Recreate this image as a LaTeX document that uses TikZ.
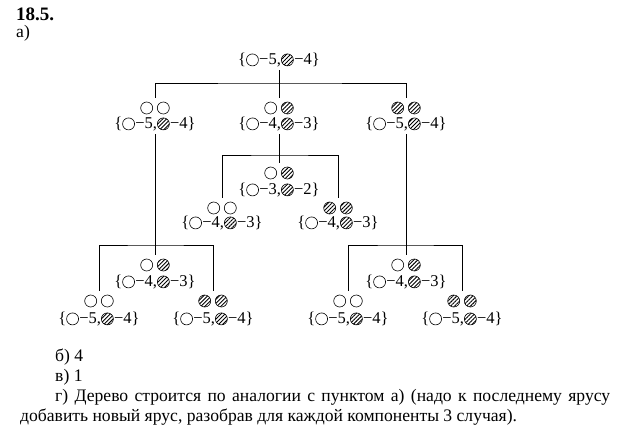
\documentclass[tikz,border=0pt]{standalone}
\usepackage{fontspec}
\setmainfont{Liberation Serif}
\usetikzlibrary{patterns.meta}
\newcommand\wcirc{\tikz[baseline=-0.6ex]\draw[line width=0.6pt] (0,0) circle (6pt);}
\newcommand\hcirc{\tikz[baseline=-0.6ex]\draw[line width=0.6pt,pattern={Lines[angle=45,distance=2.8pt,line width=0.9pt]}] (0,0) circle (6pt);}
\newcommand\tlab[2]{\{\wcirc\kern0.5pt−#1,\hcirc\kern0.5pt−#2\}}
\begin{document}
\begin{tikzpicture}[x=1pt,y=-1pt,
  lbl/.style={inner sep=3pt,font=\fontsize{16.5}{18}\selectfont},
  pair/.style={inner sep=4pt},
  edge/.style={line width=0.7pt},
  txt/.style={anchor=west,inner sep=0pt,font=\fontsize{17.6}{21}\selectfont}]
\useasboundingbox (0,0) rectangle (628,444);
\node[txt,font=\fontsize{19}{21}\selectfont\bfseries] (title) at (16,14) {18.5.};
\node[txt] (pa) at (16,33) {а)};
% root
\node[lbl] (R) at (279,60) {\tlab{5}{4}};
% level 1
\node[pair] (Ap) at (155,108) {\wcirc\kern4pt\wcirc};
\node[lbl] (A) at (155,124) {\tlab{5}{4}};
\node[pair] (Bp) at (279,108) {\wcirc\kern4pt\hcirc};
\node[lbl] (B) at (279,124) {\tlab{4}{3}};
\node[pair] (Cp) at (406,108) {\hcirc\kern4pt\hcirc};
\node[lbl] (C) at (406,124) {\tlab{5}{4}};
% under B
\node[pair] (BMp) at (279,173) {\wcirc\kern4pt\hcirc};
\node[lbl] (BM) at (279,190) {\tlab{3}{2}};
\node[pair] (BLp) at (222,208) {\wcirc\kern4pt\wcirc};
\node[lbl] (BL) at (222,223) {\tlab{4}{3}};
\node[pair] (BRp) at (338,208) {\hcirc\kern4pt\hcirc};
\node[lbl] (BR) at (338,223) {\tlab{4}{3}};
% under A
\node[pair] (AMp) at (155,265) {\wcirc\kern4pt\hcirc};
\node[lbl] (AM) at (155,282) {\tlab{4}{3}};
\node[pair] (ALp) at (99,301) {\wcirc\kern4pt\wcirc};
\node[lbl] (AL) at (99,319) {\tlab{5}{4}};
\node[pair] (ARp) at (213,301) {\hcirc\kern4pt\hcirc};
\node[lbl] (AR) at (213,319) {\tlab{5}{4}};
% under C
\node[pair] (CMp) at (406,265) {\wcirc\kern4pt\hcirc};
\node[lbl] (CM) at (406,282) {\tlab{4}{3}};
\node[pair] (CLp) at (348,301) {\wcirc\kern4pt\wcirc};
\node[lbl] (CL) at (348,319) {\tlab{5}{4}};
\node[pair] (CRp) at (462,301) {\hcirc\kern4pt\hcirc};
\node[lbl] (CR) at (462,319) {\tlab{5}{4}};
% connectors
\coordinate (f0) at (279,83);
\coordinate (f1) at (279,155);
\coordinate (f2) at (155,245);
\coordinate (f3) at (406,245);
\draw[edge] (R.south) -- (R.south |- Bp.north);
\draw[edge] (Ap.north) |- (f0) -| (Cp.north);
\draw[edge] (B.south) -- (B.south |- BMp.north);
\draw[edge] (BLp.north) |- (f1) -| (BRp.north);
\draw[edge] (A.south) -- (A.south |- AMp.north);
\draw[edge] (ALp.north) |- (f2) -| (ARp.north);
\draw[edge] (C.south) -- (C.south |- CMp.north);
\draw[edge] (CLp.north) |- (f3) -| (CRp.north);
% answers
\node[txt] (tb) at (55,357) {б) 4};
\node[txt] (tv) at (55,377) {в) 1};
\node[txt] (tg) at (55,397) {\makebox[555pt][s]{г) Дерево строится по аналогии с пунктом а) (надо к последнему ярусу}};
\node[txt] (td) at (20,417) {добавить новый ярус, разобрав для каждой компоненты 3 случая).};
\end{tikzpicture}
\end{document}
